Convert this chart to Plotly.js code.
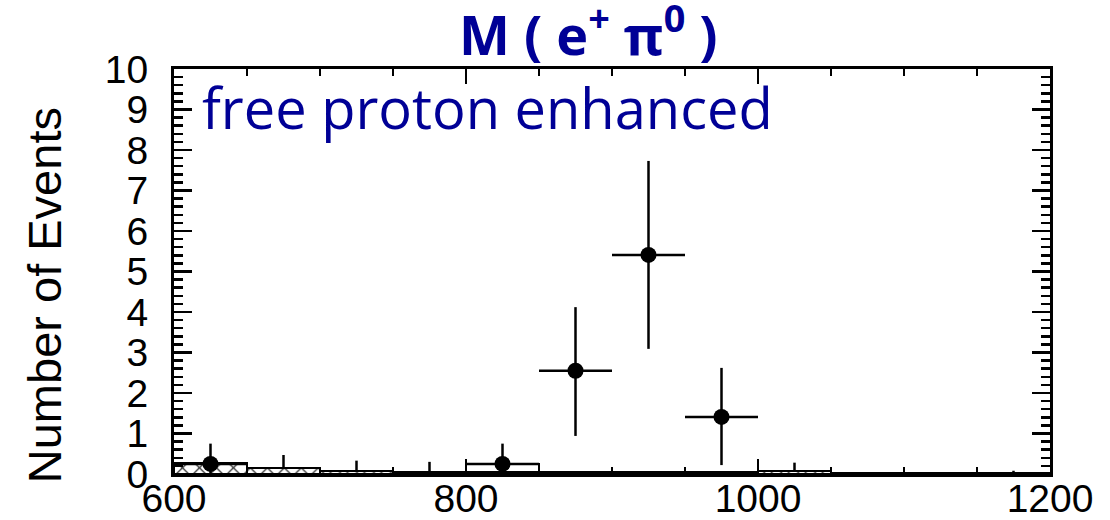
<!DOCTYPE html>
<html><head><meta charset="utf-8">
<script src="https://cdn.plot.ly/plotly-3.0.1.min.js"></script>
<style>html,body{margin:0;padding:0;background:#fff}#chart{width:1110px;height:520px}</style>
</head><body><div id="chart"></div>
<script>
// MC histogram (bin centres, 50 MeV bins)
const binCenters = [625,675,725,775,825,875,925,975,1025,1075,1125,1175];
const hatchedMC  = [0.26,0.14,0.07,0.05,0.05,0.04,0.04,0.06,0.07,0.02,0.02,0.02];
const openX = [825];
const openMC = [0.19];
// MC error bars visible above empty-data bins
const mcErrX  = [675,725,775,1025,1175];
const mcErrY  = [0.14,0.07,0.05,0.07,0.02];
const mcErrUp = [0.33,0.26,0.25,0.21,0.06];
// Data points
const dataX = [625,825,875,925,975];
const dataY = [0.25,0.25,2.55,5.41,1.41];
const dataErrUp   = [0.5,0.5,1.57,2.32,1.21];
const dataErrDown = [0.25,0.25,1.61,2.32,1.19];
const dataHalfBin = [25,25,25,25,25];
const yTitle = 'Number of Events';
const chartTitle = '<b>M ( e<sup>+</sup> π<sup>0</sup> )</b>';
const label = 'free proton enhanced';

const blue = '#000096';
const traces = [
  {type:'bar', x:binCenters, y:hatchedMC, width:50,
   marker:{color:'#fff', line:{color:'#000', width:2},
     pattern:{shape:'x', fgcolor:'#333', bgcolor:'#fff', size:12, solidity:0.2}},
   hoverinfo:'skip'},
  {type:'bar', x:openX, y:openMC, width:50,
   marker:{color:'#fff', line:{color:'#000', width:2}}, hoverinfo:'skip'},
  {type:'scatter', mode:'markers', x:mcErrX, y:mcErrY,
   marker:{size:1, color:'rgba(0,0,0,0)'},
   error_y:{type:'data', symmetric:false, array:mcErrUp, arrayminus:mcErrUp.map(()=>0), color:'#000', thickness:2.5, width:0}},
  {type:'scatter', mode:'markers', x:dataX, y:dataY,
   marker:{size:16, color:'#000'},
   error_y:{type:'data', symmetric:false, array:dataErrUp, arrayminus:dataErrDown, color:'#000', thickness:2.5, width:0},
   error_x:{type:'data', array:dataHalfBin, color:'#000', thickness:2.5, width:0}}
];
const axFont = {family:'Liberation Sans, Arial, sans-serif', size:39, color:'#000'};
const layout = {
  width:1110, height:520,
  margin:{l:174, r:60, t:69, b:46},
  paper_bgcolor:'#fff', plot_bgcolor:'#fff',
  showlegend:false, barmode:'stack', bargap:0,
  title:{text:chartTitle, font:{family:'Open Sans, sans-serif', size:54, color:blue},
         x:0.53, xanchor:'center', xref:'container', y:0.931, yref:'container', yanchor:'middle'},
  xaxis:{range:[600,1200], tick0:600, dtick:200, ticks:'inside', ticklen:15, tickwidth:2.5, tickcolor:'#000',
         minor:{tick0:600, dtick:50, ticks:'inside', ticklen:7, tickwidth:2.5, tickcolor:'#000'},
         showline:true, linewidth:3, linecolor:'#000', mirror:'ticks', showgrid:false, zeroline:false,
         tickfont:axFont, ticklabelstandoff:-12, fixedrange:true},
  yaxis:{range:[0,10], tick0:0, dtick:1, ticks:'inside', ticklen:18, tickwidth:2.5, tickcolor:'#000',
         minor:{dtick:0.2, ticks:'inside', ticklen:9, tickwidth:2.5, tickcolor:'#000'},
         showline:true, linewidth:3, linecolor:'#000', mirror:'ticks', showgrid:false, zeroline:false,
         tickfont:axFont, ticklabelstandoff:15, fixedrange:true},
  annotations:[
    {text:label, xref:'paper', yref:'paper', x:0.03, y:0.907, xanchor:'left', yanchor:'middle',
     showarrow:false, font:{family:'Open Sans, sans-serif', size:56, color:blue}},
    {text:yTitle, xref:'paper', yref:'paper', x:-0.147, y:0.442, xanchor:'center', yanchor:'middle',
     textangle:-90, showarrow:false, font:{family:'Liberation Sans, Arial, sans-serif', size:47, color:'#000'}}
  ]
};
Plotly.newPlot('chart', traces, layout, {displayModeBar:false, staticPlot:true});
</script></body></html>
